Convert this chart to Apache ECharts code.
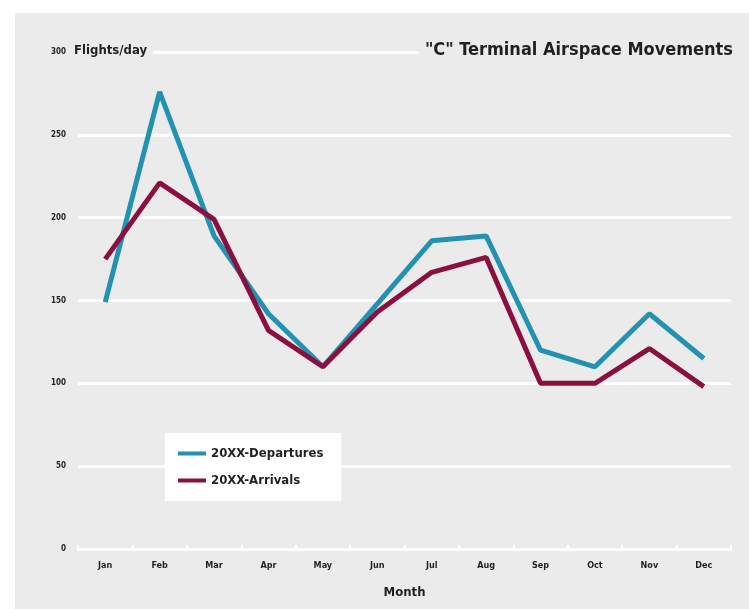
<!doctype html>
<html lang="en">
<head>
    <meta charset="utf-8">
    <title>"C" Terminal Airspace Movements</title>
    <script src="https://cdn.jsdelivr.net/npm/echarts@6/dist/echarts.min.js"></script>
    <style>
        html, body { margin: 0; padding: 0; background: #ffffff; }
        #panel { position: absolute; left: 15px; top: 13px; width: 734px; height: 596px; background: #ebebeb; }
        #mychart { position: absolute; left: 0; top: 0; width: 749px; height: 609px; }
    </style>
</head>
<body>
    <div id="panel"></div>
    <div id="mychart"></div>

    <script type="text/javascript">
        var months = ['Jan', 'Feb', 'Mar', 'Apr', 'May', 'Jun', 'Jul', 'Aug', 'Sep', 'Oct', 'Nov', 'Dec'];
        var departures = [149, 276, 189, 142, 110, 148, 186, 189, 120, 110, 142, 115];
        var arrivals = [175, 221, 199, 132, 110, 143, 167, 176, 100, 100, 121, 98];
        var yTicks = [0, 50, 100, 150, 200, 250, 300];

        // condensed look like the original; falls back to plain sans
        var font = "'Liberation Sans Narrow', 'DejaVu Sans Condensed', 'Roboto Condensed', 'Liberation Sans', sans-serif";
        var myChart = echarts.init(document.getElementById('mychart'));
        var option = {
            backgroundColor: 'transparent',
            title: {
                text: '"C" Terminal Airspace Movements',
                right: 16,
                top: 41,
                padding: [0, 0, 0, 6],
                backgroundColor: '#ebebeb',
                textStyle: { fontFamily: font, fontWeight: 'bold', fontSize: 18, color: '#231f20' }
            },
            legend: {
                orient: 'vertical',
                left: 165,
                top: 433,
                backgroundColor: '#ffffff',
                padding: [14, 18, 14, 13],
                itemGap: 14,
                itemWidth: 28,
                itemHeight: 4,
                icon: 'rect',
                textStyle: { fontFamily: font, fontWeight: 'bold', fontSize: 13, color: '#231f20' },
                data: ['20XX-Departures', '20XX-Arrivals']
            },
            grid: { left: 78, right: 18, top: 52, bottom: 60 },
            xAxis: {
                type: 'category',
                data: months,
                name: 'Month',
                nameLocation: 'middle',
                nameGap: 37,
                nameTextStyle: { fontFamily: font, fontWeight: 'bold', fontSize: 13, color: '#231f20' },
                axisLine: { lineStyle: { color: '#ffffff', width: 3 } },
                axisTick: { show: true, inside: true, length: 4, lineStyle: { color: '#ffffff', width: 2 } },
                axisLabel: { fontFamily: font, fontWeight: 'bold', fontSize: 9, color: '#231f20', margin: 12 }
            },
            yAxis: {
                type: 'value',
                min: 0,
                max: 300,
                interval: 50,
                axisLine: { show: false },
                axisTick: { show: false },
                axisLabel: {
                    fontFamily: font, fontWeight: 'bold', fontSize: 8, color: '#231f20', margin: 12,
                    formatter: function (v) { return yTicks.indexOf(v) >= 0 ? String(v) : ''; }
                },
                splitLine: { lineStyle: { color: '#ffffff', width: 3 } }
            },
            graphic: [
                {
                    type: 'text',
                    left: 72,
                    top: 44,
                    z: 10,
                    style: {
                        text: 'Flights/day',
                        fontFamily: font,
                        fontWeight: 'bold',
                        fontSize: 13,
                        fill: '#231f20',
                        backgroundColor: '#ebebeb',
                        padding: [0, 6, 0, 2]
                    }
                }
            ],
            series: [
                {
                    name: '20XX-Departures',
                    type: 'line',
                    data: departures,
                    symbol: 'none',
                    color: '#2391b0',
                    lineStyle: { width: 5, color: '#2391b0' }
                },
                {
                    name: '20XX-Arrivals',
                    type: 'line',
                    data: arrivals,
                    symbol: 'none',
                    color: '#8b0f3f',
                    lineStyle: { width: 5, color: '#8b0f3f' }
                }
            ]
        };
        myChart.setOption(option);
    </script>
</body>
</html>
